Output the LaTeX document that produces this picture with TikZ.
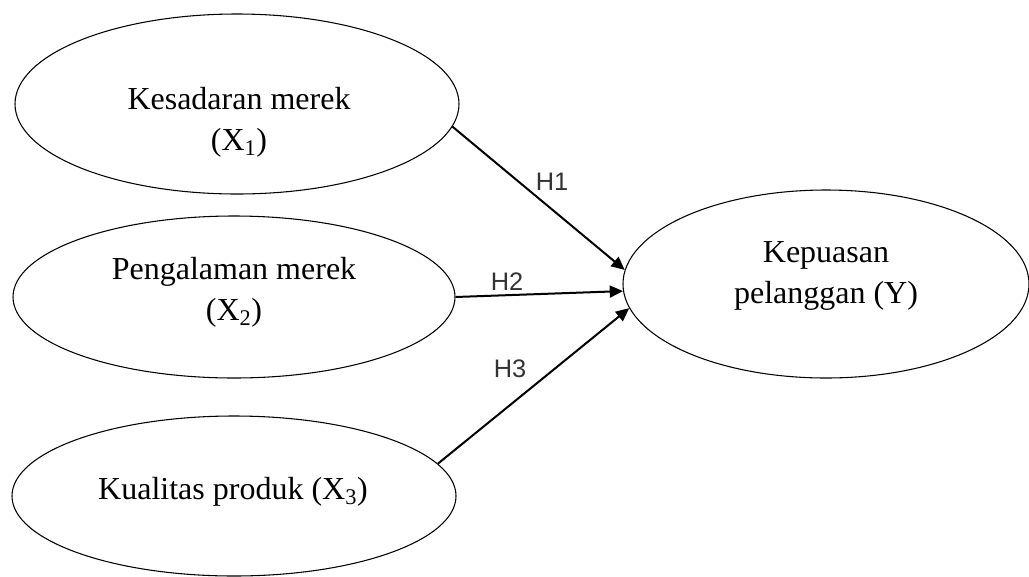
\documentclass[tikz,border=0pt]{standalone}
\usepackage{fontspec}
\setmainfont{Liberation Serif}
\setsansfont{Liberation Sans}
\usetikzlibrary{shapes.geometric,arrows.meta}
\tikzset{
  var/.style={draw, ellipse, line width=0.8pt, inner sep=0pt},
  vartext/.style={align=center, font=\fontsize{24}{30.75}\selectfont},
  hyp/.style={font=\sffamily\fontsize{19}{22}\selectfont, text=black!80},
  path/.style={line width=1.5pt, -{Triangle[length=10pt,width=9pt]}}
}
\begin{document}
\begin{tikzpicture}[x=0.75pt, y=-0.75pt]
    \useasboundingbox (0,0) rectangle (1029,576);
    % Variables
    \node[var, minimum width=333pt, minimum height=135pt] (x1) at (237,104) {};
    \node[var, minimum width=331.5pt, minimum height=121.5pt] (x2) at (234,297) {};
    \node[var, minimum width=333pt, minimum height=120pt] (x3) at (234,496) {};
    \node[var, minimum width=304.5pt, minimum height=141pt] (y) at (826,284) {};
    \node[vartext] (tx1) at (239,122) {Kesadaran merek\\(X\textsubscript{1})};
    \node[vartext] (tx2) at (234,292) {Pengalaman merek\\(X\textsubscript{2})};
    \node[vartext] (tx3) at (233,492) {Kualitas produk (X\textsubscript{3})};
    \node[vartext] (ty) at (826,276) {Kepuasan\\pelanggan (Y)};
    % Hypotheses
    \draw[path] (x1.-6) -- (y.176);
    \draw[path] (x2.east) -- (y.182);
    \draw[path] (x3.9) -- (y.187);
    \node[hyp] (h1) at (552,182) {H1};
    \node[hyp] (h2) at (507,282) {H2};
    \node[hyp] (h3) at (510,369) {H3};
\end{tikzpicture}
\end{document}
